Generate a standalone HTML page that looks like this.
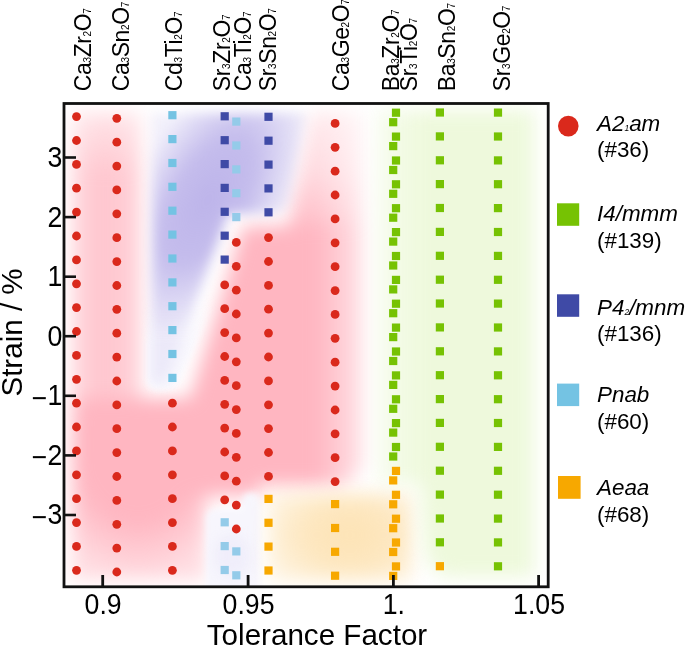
<!DOCTYPE html>
<html><head><meta charset="utf-8"><style>
html,body{margin:0;padding:0;background:#fff;width:685px;height:646px;overflow:hidden}
svg{display:block;font-family:"Liberation Sans",sans-serif;}
text{opacity:0.999}
</style></head><body>
<svg width="685" height="646" viewBox="0 0 685 646">
<defs>
<filter id="bl" x="-30%" y="-30%" width="160%" height="160%" color-interpolation-filters="sRGB"><feGaussianBlur stdDeviation="9"/></filter>
<filter id="bl2" x="-30%" y="-30%" width="160%" height="160%" color-interpolation-filters="sRGB"><feGaussianBlur stdDeviation="14"/></filter>
<clipPath id="pc"><rect x="64" y="103.5" width="484" height="483.3"/></clipPath>
</defs>
<rect width="685" height="646" fill="#fff"/>
<g clip-path="url(#pc)">
<defs>
<filter id="b3" x="-50%" y="-50%" width="200%" height="200%" color-interpolation-filters="sRGB"><feGaussianBlur stdDeviation="3"/></filter>
<filter id="b6" x="-50%" y="-50%" width="200%" height="200%" color-interpolation-filters="sRGB"><feGaussianBlur stdDeviation="6"/></filter>
<filter id="b9" x="-50%" y="-50%" width="200%" height="200%" color-interpolation-filters="sRGB"><feGaussianBlur stdDeviation="9"/></filter>
<filter id="b12" x="-50%" y="-50%" width="200%" height="200%" color-interpolation-filters="sRGB"><feGaussianBlur stdDeviation="12"/></filter>
<linearGradient id="pkUR" x1="0" y1="112" x2="0" y2="228" gradientUnits="userSpaceOnUse">
 <stop offset="0" stop-color="#ffb6c1" stop-opacity="0.3"/>
 <stop offset="0.5" stop-color="#ffb6c1" stop-opacity="0.5"/>
 <stop offset="1" stop-color="#ffb6c1" stop-opacity="0.9"/>
</linearGradient>
<linearGradient id="pkB" x1="72" y1="0" x2="141" y2="0" gradientUnits="userSpaceOnUse">
 <stop offset="0" stop-color="#ffb6c1" stop-opacity="0.55"/>
 <stop offset="0.45" stop-color="#ffb6c1" stop-opacity="0.8"/>
 <stop offset="1" stop-color="#ffb6c1" stop-opacity="0.6"/>
</linearGradient>
<radialGradient id="lvF" cx="0" cy="0" r="100" gradientUnits="userSpaceOnUse" gradientTransform="translate(208 200) rotate(30) scale(0.76 1.55)">
 <stop offset="0" stop-color="#bdb4ea" stop-opacity="1"/>
 <stop offset="0.45" stop-color="#bdb4ea" stop-opacity="0.88"/>
 <stop offset="1" stop-color="#bdb4ea" stop-opacity="0.2"/>
</radialGradient>
<linearGradient id="wb" x1="0" y1="300" x2="0" y2="345" gradientUnits="userSpaceOnUse">
 <stop offset="0" stop-color="#f8f7fd" stop-opacity="0"/>
 <stop offset="1" stop-color="#f8f7fd" stop-opacity="1"/>
</linearGradient>
<radialGradient id="orR" cx="0" cy="0" r="100" gradientUnits="userSpaceOnUse" gradientTransform="translate(350 535) scale(1.0 0.7)">
 <stop offset="0" stop-color="#fde3b5" stop-opacity="1"/>
 <stop offset="0.45" stop-color="#fde3b5" stop-opacity="0.85"/>
 <stop offset="1" stop-color="#fde3b5" stop-opacity="0.3"/>
</radialGradient>
<linearGradient id="grG" x1="378" y1="0" x2="425" y2="0" gradientUnits="userSpaceOnUse">
 <stop offset="0" stop-color="#eef9dc" stop-opacity="0.5"/>
 <stop offset="1" stop-color="#eef9dc" stop-opacity="1"/>
</linearGradient>
<radialGradient id="pkLL" cx="0" cy="0" r="100" gradientUnits="userSpaceOnUse" gradientTransform="translate(138 445) scale(1.1 1.35)">
 <stop offset="0" stop-color="#ffb6c1" stop-opacity="1"/>
 <stop offset="0.55" stop-color="#ffb6c1" stop-opacity="1"/>
 <stop offset="1" stop-color="#ffb6c1" stop-opacity="0.45"/>
</radialGradient>
<linearGradient id="pkM" x1="316" y1="0" x2="362" y2="0" gradientUnits="userSpaceOnUse">
 <stop offset="0" stop-color="#ffb6c1" stop-opacity="1"/>
 <stop offset="1" stop-color="#ffb6c1" stop-opacity="0.4"/>
</linearGradient>
<linearGradient id="mHg" x1="316" y1="0" x2="362" y2="0" gradientUnits="userSpaceOnUse">
 <stop offset="0" stop-color="#fff"/>
 <stop offset="1" stop-color="#666"/>
</linearGradient>
<mask id="mH" maskUnits="userSpaceOnUse" x="0" y="0" width="685" height="646"><rect x="0" y="0" width="685" height="646" fill="url(#mHg)"/></mask>
<linearGradient id="mVg" x1="0" y1="112" x2="0" y2="175" gradientUnits="userSpaceOnUse">
 <stop offset="0" stop-color="#777"/>
 <stop offset="1" stop-color="#fff"/>
</linearGradient>
<mask id="mV" maskUnits="userSpaceOnUse" x="0" y="0" width="685" height="646"><rect x="0" y="0" width="685" height="646" fill="url(#mVg)"/></mask>
</defs>
<g filter="url(#b9)">
<rect x="72" y="112" width="69" height="286" fill="url(#pkB)" mask="url(#mV)"/>
<polygon fill="url(#pkLL)" points="72,398 190,398 190,496 206,496 206,580 72,580"/>
<g mask="url(#mH)">
<polygon fill="#ffb6c1" points="190,398 243,226 362,226 362,466 346,485 258,485 258,496 190,496 190,398"/>
<polygon fill="url(#pkUR)" points="312,112 362,112 362,226 288,226 300,170"/>
</g>
</g>
<path fill="url(#wb)" filter="url(#b3)" d="M147,300 L214,300 L180,378 Q176,390 165,390 L158,390 Q147,390 147,378 Z"/>
<polygon fill="url(#lvF)" filter="url(#b6)" points="152,113 306,113 288,205 278,213 228,214 166,382 152,382"/>
<g filter="url(#b3)">
<rect x="206" y="509" width="44" height="90" rx="9" fill="#f7f6fd"/>
<rect x="242" y="493" width="18" height="100" rx="8" fill="#f7f6fd"/>
</g>
<ellipse cx="232" cy="556" rx="18" ry="22" fill="#e9e6f8" opacity="0.5" filter="url(#b6)"/>
<rect x="268" y="493" width="144" height="88" fill="url(#orR)" filter="url(#b9)"/>
<path fill="url(#grG)" filter="url(#b9)" d="M378,110 L534,110 L534,577 L452,577 Q428,577 424,545 L420,484 L378,484 Z"/>

</g>
<circle cx="76.5" cy="116.6" r="4.4" fill="#da291c"/>
<circle cx="76.5" cy="140.5" r="4.4" fill="#da291c"/>
<circle cx="76.5" cy="164.4" r="4.4" fill="#da291c"/>
<circle cx="76.5" cy="188.2" r="4.4" fill="#da291c"/>
<circle cx="76.5" cy="212.1" r="4.4" fill="#da291c"/>
<circle cx="76.5" cy="236.0" r="4.4" fill="#da291c"/>
<circle cx="76.5" cy="259.9" r="4.4" fill="#da291c"/>
<circle cx="76.5" cy="283.8" r="4.4" fill="#da291c"/>
<circle cx="76.5" cy="307.6" r="4.4" fill="#da291c"/>
<circle cx="76.5" cy="331.5" r="4.4" fill="#da291c"/>
<circle cx="76.5" cy="355.4" r="4.4" fill="#da291c"/>
<circle cx="76.5" cy="379.3" r="4.4" fill="#da291c"/>
<circle cx="76.5" cy="403.2" r="4.4" fill="#da291c"/>
<circle cx="76.5" cy="427.0" r="4.4" fill="#da291c"/>
<circle cx="76.5" cy="450.9" r="4.4" fill="#da291c"/>
<circle cx="76.5" cy="474.8" r="4.4" fill="#da291c"/>
<circle cx="76.5" cy="498.7" r="4.4" fill="#da291c"/>
<circle cx="76.5" cy="522.6" r="4.4" fill="#da291c"/>
<circle cx="76.5" cy="546.4" r="4.4" fill="#da291c"/>
<circle cx="76.5" cy="570.3" r="4.4" fill="#da291c"/>
<circle cx="116.8" cy="118.3" r="4.4" fill="#da291c"/>
<circle cx="116.8" cy="142.2" r="4.4" fill="#da291c"/>
<circle cx="116.8" cy="166.1" r="4.4" fill="#da291c"/>
<circle cx="116.8" cy="189.9" r="4.4" fill="#da291c"/>
<circle cx="116.8" cy="213.8" r="4.4" fill="#da291c"/>
<circle cx="116.8" cy="237.7" r="4.4" fill="#da291c"/>
<circle cx="116.8" cy="261.6" r="4.4" fill="#da291c"/>
<circle cx="116.8" cy="285.5" r="4.4" fill="#da291c"/>
<circle cx="116.8" cy="309.3" r="4.4" fill="#da291c"/>
<circle cx="116.8" cy="333.2" r="4.4" fill="#da291c"/>
<circle cx="116.8" cy="357.1" r="4.4" fill="#da291c"/>
<circle cx="116.8" cy="381.0" r="4.4" fill="#da291c"/>
<circle cx="116.8" cy="404.9" r="4.4" fill="#da291c"/>
<circle cx="116.8" cy="428.7" r="4.4" fill="#da291c"/>
<circle cx="116.8" cy="452.6" r="4.4" fill="#da291c"/>
<circle cx="116.8" cy="476.5" r="4.4" fill="#da291c"/>
<circle cx="116.8" cy="500.4" r="4.4" fill="#da291c"/>
<circle cx="116.8" cy="524.3" r="4.4" fill="#da291c"/>
<circle cx="116.8" cy="548.1" r="4.4" fill="#da291c"/>
<circle cx="116.8" cy="572.0" r="4.4" fill="#da291c"/>
<rect x="168.3" y="111.1" width="8.2" height="8.2" fill="#74c3e3"/>
<rect x="168.3" y="135.0" width="8.2" height="8.2" fill="#74c3e3"/>
<rect x="168.3" y="158.9" width="8.2" height="8.2" fill="#74c3e3"/>
<rect x="168.3" y="182.7" width="8.2" height="8.2" fill="#74c3e3"/>
<rect x="168.3" y="206.6" width="8.2" height="8.2" fill="#74c3e3"/>
<rect x="168.3" y="230.5" width="8.2" height="8.2" fill="#74c3e3"/>
<rect x="168.3" y="254.4" width="8.2" height="8.2" fill="#74c3e3"/>
<rect x="168.3" y="278.3" width="8.2" height="8.2" fill="#74c3e3"/>
<rect x="168.3" y="302.1" width="8.2" height="8.2" fill="#74c3e3"/>
<rect x="168.3" y="326.0" width="8.2" height="8.2" fill="#74c3e3"/>
<rect x="168.3" y="349.9" width="8.2" height="8.2" fill="#74c3e3"/>
<rect x="168.3" y="373.8" width="8.2" height="8.2" fill="#74c3e3"/>
<circle cx="172.4" cy="403.2" r="4.4" fill="#da291c"/>
<circle cx="172.4" cy="427.0" r="4.4" fill="#da291c"/>
<circle cx="172.4" cy="450.9" r="4.4" fill="#da291c"/>
<circle cx="172.4" cy="474.8" r="4.4" fill="#da291c"/>
<circle cx="172.4" cy="498.7" r="4.4" fill="#da291c"/>
<circle cx="172.4" cy="522.6" r="4.4" fill="#da291c"/>
<circle cx="172.4" cy="546.4" r="4.4" fill="#da291c"/>
<circle cx="172.4" cy="570.3" r="4.4" fill="#da291c"/>
<rect x="220.6" y="112.2" width="8.2" height="8.2" fill="#3f4aa6"/>
<rect x="220.6" y="136.1" width="8.2" height="8.2" fill="#3f4aa6"/>
<rect x="220.6" y="160.0" width="8.2" height="8.2" fill="#3f4aa6"/>
<rect x="220.6" y="183.8" width="8.2" height="8.2" fill="#3f4aa6"/>
<rect x="220.6" y="207.7" width="8.2" height="8.2" fill="#3f4aa6"/>
<rect x="220.6" y="231.6" width="8.2" height="8.2" fill="#3f4aa6"/>
<rect x="220.6" y="255.5" width="8.2" height="8.2" fill="#3f4aa6"/>
<circle cx="224.7" cy="284.9" r="4.4" fill="#da291c"/>
<circle cx="224.7" cy="308.7" r="4.4" fill="#da291c"/>
<circle cx="224.7" cy="332.6" r="4.4" fill="#da291c"/>
<circle cx="224.7" cy="356.5" r="4.4" fill="#da291c"/>
<circle cx="224.7" cy="380.4" r="4.4" fill="#da291c"/>
<circle cx="224.7" cy="404.3" r="4.4" fill="#da291c"/>
<circle cx="224.7" cy="428.1" r="4.4" fill="#da291c"/>
<circle cx="224.7" cy="452.0" r="4.4" fill="#da291c"/>
<circle cx="224.7" cy="475.9" r="4.4" fill="#da291c"/>
<circle cx="224.7" cy="499.8" r="4.4" fill="#da291c"/>
<rect x="220.6" y="518.2" width="8.2" height="8.2" fill="#94cbe9"/>
<rect x="220.6" y="542.0" width="8.2" height="8.2" fill="#94cbe9"/>
<rect x="220.6" y="565.9" width="8.2" height="8.2" fill="#94cbe9"/>
<rect x="232.2" y="117.5" width="8.2" height="8.2" fill="#94cbe9"/>
<rect x="232.2" y="141.4" width="8.2" height="8.2" fill="#94cbe9"/>
<rect x="232.2" y="165.3" width="8.2" height="8.2" fill="#94cbe9"/>
<rect x="232.2" y="189.1" width="8.2" height="8.2" fill="#94cbe9"/>
<rect x="232.2" y="213.0" width="8.2" height="8.2" fill="#94cbe9"/>
<circle cx="236.3" cy="242.4" r="4.4" fill="#da291c"/>
<circle cx="236.3" cy="266.3" r="4.4" fill="#da291c"/>
<circle cx="236.3" cy="290.2" r="4.4" fill="#da291c"/>
<circle cx="236.3" cy="314.0" r="4.4" fill="#da291c"/>
<circle cx="236.3" cy="337.9" r="4.4" fill="#da291c"/>
<circle cx="236.3" cy="361.8" r="4.4" fill="#da291c"/>
<circle cx="236.3" cy="385.7" r="4.4" fill="#da291c"/>
<circle cx="236.3" cy="409.6" r="4.4" fill="#da291c"/>
<circle cx="236.3" cy="433.4" r="4.4" fill="#da291c"/>
<circle cx="236.3" cy="457.3" r="4.4" fill="#da291c"/>
<circle cx="236.3" cy="481.2" r="4.4" fill="#da291c"/>
<circle cx="236.3" cy="505.1" r="4.4" fill="#da291c"/>
<circle cx="236.3" cy="529.0" r="4.4" fill="#da291c"/>
<rect x="232.2" y="547.3" width="8.2" height="8.2" fill="#94cbe9"/>
<rect x="232.2" y="571.2" width="8.2" height="8.2" fill="#94cbe9"/>
<rect x="264.4" y="112.7" width="8.2" height="8.2" fill="#3f4aa6"/>
<rect x="264.4" y="136.6" width="8.2" height="8.2" fill="#3f4aa6"/>
<rect x="264.4" y="160.5" width="8.2" height="8.2" fill="#3f4aa6"/>
<rect x="264.4" y="184.3" width="8.2" height="8.2" fill="#3f4aa6"/>
<rect x="264.4" y="208.2" width="8.2" height="8.2" fill="#3f4aa6"/>
<circle cx="268.5" cy="237.6" r="4.4" fill="#da291c"/>
<circle cx="268.5" cy="261.5" r="4.4" fill="#da291c"/>
<circle cx="268.5" cy="285.4" r="4.4" fill="#da291c"/>
<circle cx="268.5" cy="309.2" r="4.4" fill="#da291c"/>
<circle cx="268.5" cy="333.1" r="4.4" fill="#da291c"/>
<circle cx="268.5" cy="357.0" r="4.4" fill="#da291c"/>
<circle cx="268.5" cy="380.9" r="4.4" fill="#da291c"/>
<circle cx="268.5" cy="404.8" r="4.4" fill="#da291c"/>
<circle cx="268.5" cy="428.6" r="4.4" fill="#da291c"/>
<circle cx="268.5" cy="452.5" r="4.4" fill="#da291c"/>
<circle cx="268.5" cy="476.4" r="4.4" fill="#da291c"/>
<rect x="264.4" y="494.8" width="8.2" height="8.2" fill="#f7a800"/>
<rect x="264.4" y="518.7" width="8.2" height="8.2" fill="#f7a800"/>
<rect x="264.4" y="542.5" width="8.2" height="8.2" fill="#f7a800"/>
<rect x="264.4" y="566.4" width="8.2" height="8.2" fill="#f7a800"/>
<circle cx="335.1" cy="123.4" r="4.4" fill="#da291c"/>
<circle cx="335.1" cy="147.3" r="4.4" fill="#da291c"/>
<circle cx="335.1" cy="171.2" r="4.4" fill="#da291c"/>
<circle cx="335.1" cy="195.0" r="4.4" fill="#da291c"/>
<circle cx="335.1" cy="218.9" r="4.4" fill="#da291c"/>
<circle cx="335.1" cy="242.8" r="4.4" fill="#da291c"/>
<circle cx="335.1" cy="266.7" r="4.4" fill="#da291c"/>
<circle cx="335.1" cy="290.6" r="4.4" fill="#da291c"/>
<circle cx="335.1" cy="314.4" r="4.4" fill="#da291c"/>
<circle cx="335.1" cy="338.3" r="4.4" fill="#da291c"/>
<circle cx="335.1" cy="362.2" r="4.4" fill="#da291c"/>
<circle cx="335.1" cy="386.1" r="4.4" fill="#da291c"/>
<circle cx="335.1" cy="410.0" r="4.4" fill="#da291c"/>
<circle cx="335.1" cy="433.8" r="4.4" fill="#da291c"/>
<circle cx="335.1" cy="457.7" r="4.4" fill="#da291c"/>
<circle cx="335.1" cy="481.6" r="4.4" fill="#da291c"/>
<rect x="331.0" y="500.0" width="8.2" height="8.2" fill="#f7a800"/>
<rect x="331.0" y="523.9" width="8.2" height="8.2" fill="#f7a800"/>
<rect x="331.0" y="547.7" width="8.2" height="8.2" fill="#f7a800"/>
<rect x="331.0" y="571.6" width="8.2" height="8.2" fill="#f7a800"/>
<rect x="391.9" y="108.6" width="8.2" height="8.2" fill="#76c203"/>
<rect x="391.9" y="132.5" width="8.2" height="8.2" fill="#76c203"/>
<rect x="391.9" y="156.4" width="8.2" height="8.2" fill="#76c203"/>
<rect x="391.9" y="180.2" width="8.2" height="8.2" fill="#76c203"/>
<rect x="391.9" y="204.1" width="8.2" height="8.2" fill="#76c203"/>
<rect x="391.9" y="228.0" width="8.2" height="8.2" fill="#76c203"/>
<rect x="391.9" y="251.9" width="8.2" height="8.2" fill="#76c203"/>
<rect x="391.9" y="275.8" width="8.2" height="8.2" fill="#76c203"/>
<rect x="391.9" y="299.6" width="8.2" height="8.2" fill="#76c203"/>
<rect x="391.9" y="323.5" width="8.2" height="8.2" fill="#76c203"/>
<rect x="391.9" y="347.4" width="8.2" height="8.2" fill="#76c203"/>
<rect x="391.9" y="371.3" width="8.2" height="8.2" fill="#76c203"/>
<rect x="391.9" y="395.2" width="8.2" height="8.2" fill="#76c203"/>
<rect x="391.9" y="419.0" width="8.2" height="8.2" fill="#76c203"/>
<rect x="391.9" y="442.9" width="8.2" height="8.2" fill="#76c203"/>
<rect x="391.9" y="466.8" width="8.2" height="8.2" fill="#f7a800"/>
<rect x="391.9" y="490.7" width="8.2" height="8.2" fill="#f7a800"/>
<rect x="391.9" y="514.6" width="8.2" height="8.2" fill="#f7a800"/>
<rect x="391.9" y="538.4" width="8.2" height="8.2" fill="#f7a800"/>
<rect x="391.9" y="562.3" width="8.2" height="8.2" fill="#f7a800"/>
<rect x="389.1" y="118.1" width="8.2" height="8.2" fill="#76c203"/>
<rect x="389.1" y="142.0" width="8.2" height="8.2" fill="#76c203"/>
<rect x="389.1" y="165.9" width="8.2" height="8.2" fill="#76c203"/>
<rect x="389.1" y="189.7" width="8.2" height="8.2" fill="#76c203"/>
<rect x="389.1" y="213.6" width="8.2" height="8.2" fill="#76c203"/>
<rect x="389.1" y="237.5" width="8.2" height="8.2" fill="#76c203"/>
<rect x="389.1" y="261.4" width="8.2" height="8.2" fill="#76c203"/>
<rect x="389.1" y="285.3" width="8.2" height="8.2" fill="#76c203"/>
<rect x="389.1" y="309.1" width="8.2" height="8.2" fill="#76c203"/>
<rect x="389.1" y="333.0" width="8.2" height="8.2" fill="#76c203"/>
<rect x="389.1" y="356.9" width="8.2" height="8.2" fill="#76c203"/>
<rect x="389.1" y="380.8" width="8.2" height="8.2" fill="#76c203"/>
<rect x="389.1" y="404.7" width="8.2" height="8.2" fill="#76c203"/>
<rect x="389.1" y="428.5" width="8.2" height="8.2" fill="#76c203"/>
<rect x="389.1" y="452.4" width="8.2" height="8.2" fill="#76c203"/>
<rect x="389.1" y="476.3" width="8.2" height="8.2" fill="#f7a800"/>
<rect x="389.1" y="500.2" width="8.2" height="8.2" fill="#f7a800"/>
<rect x="389.1" y="524.1" width="8.2" height="8.2" fill="#f7a800"/>
<rect x="389.1" y="547.9" width="8.2" height="8.2" fill="#f7a800"/>
<rect x="389.1" y="571.8" width="8.2" height="8.2" fill="#f7a800"/>
<rect x="435.8" y="108.4" width="8.2" height="8.2" fill="#76c203"/>
<rect x="435.8" y="132.3" width="8.2" height="8.2" fill="#76c203"/>
<rect x="435.8" y="156.2" width="8.2" height="8.2" fill="#76c203"/>
<rect x="435.8" y="180.0" width="8.2" height="8.2" fill="#76c203"/>
<rect x="435.8" y="203.9" width="8.2" height="8.2" fill="#76c203"/>
<rect x="435.8" y="227.8" width="8.2" height="8.2" fill="#76c203"/>
<rect x="435.8" y="251.7" width="8.2" height="8.2" fill="#76c203"/>
<rect x="435.8" y="275.6" width="8.2" height="8.2" fill="#76c203"/>
<rect x="435.8" y="299.4" width="8.2" height="8.2" fill="#76c203"/>
<rect x="435.8" y="323.3" width="8.2" height="8.2" fill="#76c203"/>
<rect x="435.8" y="347.2" width="8.2" height="8.2" fill="#76c203"/>
<rect x="435.8" y="371.1" width="8.2" height="8.2" fill="#76c203"/>
<rect x="435.8" y="395.0" width="8.2" height="8.2" fill="#76c203"/>
<rect x="435.8" y="418.8" width="8.2" height="8.2" fill="#76c203"/>
<rect x="435.8" y="442.7" width="8.2" height="8.2" fill="#76c203"/>
<rect x="435.8" y="466.6" width="8.2" height="8.2" fill="#76c203"/>
<rect x="435.8" y="490.5" width="8.2" height="8.2" fill="#76c203"/>
<rect x="435.8" y="514.4" width="8.2" height="8.2" fill="#76c203"/>
<rect x="435.8" y="538.2" width="8.2" height="8.2" fill="#76c203"/>
<rect x="435.8" y="562.1" width="8.2" height="8.2" fill="#f7a800"/>
<rect x="493.9" y="108.5" width="8.2" height="8.2" fill="#76c203"/>
<rect x="493.9" y="132.4" width="8.2" height="8.2" fill="#76c203"/>
<rect x="493.9" y="156.3" width="8.2" height="8.2" fill="#76c203"/>
<rect x="493.9" y="180.1" width="8.2" height="8.2" fill="#76c203"/>
<rect x="493.9" y="204.0" width="8.2" height="8.2" fill="#76c203"/>
<rect x="493.9" y="227.9" width="8.2" height="8.2" fill="#76c203"/>
<rect x="493.9" y="251.8" width="8.2" height="8.2" fill="#76c203"/>
<rect x="493.9" y="275.7" width="8.2" height="8.2" fill="#76c203"/>
<rect x="493.9" y="299.5" width="8.2" height="8.2" fill="#76c203"/>
<rect x="493.9" y="323.4" width="8.2" height="8.2" fill="#76c203"/>
<rect x="493.9" y="347.3" width="8.2" height="8.2" fill="#76c203"/>
<rect x="493.9" y="371.2" width="8.2" height="8.2" fill="#76c203"/>
<rect x="493.9" y="395.1" width="8.2" height="8.2" fill="#76c203"/>
<rect x="493.9" y="418.9" width="8.2" height="8.2" fill="#76c203"/>
<rect x="493.9" y="442.8" width="8.2" height="8.2" fill="#76c203"/>
<rect x="493.9" y="466.7" width="8.2" height="8.2" fill="#76c203"/>
<rect x="493.9" y="490.6" width="8.2" height="8.2" fill="#76c203"/>
<rect x="493.9" y="514.5" width="8.2" height="8.2" fill="#76c203"/>
<rect x="493.9" y="538.3" width="8.2" height="8.2" fill="#76c203"/>
<rect x="493.9" y="562.2" width="8.2" height="8.2" fill="#76c203"/>
<line x1="64" y1="157.5" x2="76" y2="157.5" stroke="#111" stroke-width="2.6"/>
<text transform="translate(62.3,166.9) scale(0.92,1)" font-size="29" text-anchor="end">3</text>
<line x1="64" y1="217.1" x2="76" y2="217.1" stroke="#111" stroke-width="2.6"/>
<text transform="translate(62.3,226.5) scale(0.92,1)" font-size="29" text-anchor="end">2</text>
<line x1="64" y1="276.7" x2="76" y2="276.7" stroke="#111" stroke-width="2.6"/>
<text transform="translate(62.3,286.1) scale(0.92,1)" font-size="29" text-anchor="end">1</text>
<line x1="64" y1="336.2" x2="76" y2="336.2" stroke="#111" stroke-width="2.6"/>
<text transform="translate(62.3,345.6) scale(0.92,1)" font-size="29" text-anchor="end">0</text>
<line x1="64" y1="395.8" x2="76" y2="395.8" stroke="#111" stroke-width="2.6"/>
<text transform="translate(62.3,405.2) scale(0.92,1)" font-size="29" text-anchor="end"><tspan dy="2.6">−</tspan><tspan dy="-2.6">1</tspan></text>
<line x1="64" y1="455.4" x2="76" y2="455.4" stroke="#111" stroke-width="2.6"/>
<text transform="translate(62.3,464.8) scale(0.92,1)" font-size="29" text-anchor="end"><tspan dy="2.6">−</tspan><tspan dy="-2.6">2</tspan></text>
<line x1="64" y1="515.0" x2="76" y2="515.0" stroke="#111" stroke-width="2.6"/>
<text transform="translate(62.3,524.4) scale(0.92,1)" font-size="29" text-anchor="end"><tspan dy="2.6">−</tspan><tspan dy="-2.6">3</tspan></text>
<line x1="102.7" y1="575" x2="102.7" y2="587" stroke="#111" stroke-width="2.8"/>
<text transform="translate(103.10000000000001,613.6) scale(0.92,1)" font-size="29" text-anchor="middle">0.9</text>
<line x1="248.1" y1="575" x2="248.1" y2="587" stroke="#111" stroke-width="2.8"/>
<text transform="translate(248.5,613.6) scale(0.92,1)" font-size="29" text-anchor="middle">0.95</text>
<line x1="393.4" y1="575" x2="393.4" y2="587" stroke="#111" stroke-width="2.8"/>
<text transform="translate(393.79999999999995,613.6) scale(0.92,1)" font-size="29" text-anchor="middle">1.</text>
<line x1="538.6" y1="575" x2="538.6" y2="587" stroke="#111" stroke-width="2.8"/>
<text transform="translate(539.0,613.6) scale(0.92,1)" font-size="29" text-anchor="middle">1.05</text>
<rect x="64" y="103.5" width="484.2" height="483.3" fill="none" stroke="#111" stroke-width="2.8"/>
<text x="206.8" y="645" font-size="29.6">Tolerance Factor</text>
<text transform="translate(21.6,396.6) rotate(-90)" font-size="29.6">Strain / %</text>
<text transform="translate(90.6,91.2) rotate(-90)" x="0" y="0" letter-spacing="-0.38"><tspan font-size="23">Ca</tspan><tspan font-size="10">3</tspan><tspan font-size="23">Zr</tspan><tspan font-size="10">2</tspan><tspan font-size="23">O</tspan><tspan font-size="10">7</tspan></text>
<text transform="translate(128.6,91.2) rotate(-90)" x="0" y="0" letter-spacing="-0.38"><tspan font-size="23">Ca</tspan><tspan font-size="10">3</tspan><tspan font-size="23">Sn</tspan><tspan font-size="10">2</tspan><tspan font-size="23">O</tspan><tspan font-size="10">7</tspan></text>
<text transform="translate(182.0,91.2) rotate(-90)" x="0" y="0" letter-spacing="-0.38"><tspan font-size="23">Cd</tspan><tspan font-size="10">3</tspan><tspan font-size="23">Ti</tspan><tspan font-size="10">2</tspan><tspan font-size="23">O</tspan><tspan font-size="10">7</tspan></text>
<text transform="translate(230.0,91.2) rotate(-90)" x="0" y="0" letter-spacing="-0.38"><tspan font-size="23">Sr</tspan><tspan font-size="10">3</tspan><tspan font-size="23">Zr</tspan><tspan font-size="10">2</tspan><tspan font-size="23">O</tspan><tspan font-size="10">7</tspan></text>
<text transform="translate(251.4,91.2) rotate(-90)" x="0" y="0" letter-spacing="-0.38"><tspan font-size="23">Ca</tspan><tspan font-size="10">3</tspan><tspan font-size="23">Ti</tspan><tspan font-size="10">2</tspan><tspan font-size="23">O</tspan><tspan font-size="10">7</tspan></text>
<text transform="translate(276.2,91.2) rotate(-90)" x="0" y="0" letter-spacing="-0.38"><tspan font-size="23">Sr</tspan><tspan font-size="10">3</tspan><tspan font-size="23">Sn</tspan><tspan font-size="10">2</tspan><tspan font-size="23">O</tspan><tspan font-size="10">7</tspan></text>
<text transform="translate(348.6,91.2) rotate(-90)" x="0" y="0" letter-spacing="-0.38"><tspan font-size="23">Ca</tspan><tspan font-size="10">3</tspan><tspan font-size="23">Ge</tspan><tspan font-size="10">2</tspan><tspan font-size="23">O</tspan><tspan font-size="10">7</tspan></text>
<text transform="translate(399.0,91.2) rotate(-90)" x="0" y="0" letter-spacing="-0.38"><tspan font-size="23">Ba</tspan><tspan font-size="10">3</tspan><tspan font-size="23">Zr</tspan><tspan font-size="10">2</tspan><tspan font-size="23">O</tspan><tspan font-size="10">7</tspan></text>
<text transform="translate(416.8,91.2) rotate(-90)" x="0" y="0" letter-spacing="-0.38"><tspan font-size="23">Sr</tspan><tspan font-size="10">3</tspan><tspan font-size="23">Ti</tspan><tspan font-size="10">2</tspan><tspan font-size="23">O</tspan><tspan font-size="10">7</tspan></text>
<text transform="translate(454.7,91.2) rotate(-90)" x="0" y="0" letter-spacing="-0.38"><tspan font-size="23">Ba</tspan><tspan font-size="10">3</tspan><tspan font-size="23">Sn</tspan><tspan font-size="10">2</tspan><tspan font-size="23">O</tspan><tspan font-size="10">7</tspan></text>
<text transform="translate(510.2,91.2) rotate(-90)" x="0" y="0" letter-spacing="-0.38"><tspan font-size="23">Sr</tspan><tspan font-size="10">3</tspan><tspan font-size="23">Ge</tspan><tspan font-size="10">2</tspan><tspan font-size="23">O</tspan><tspan font-size="10">7</tspan></text>
<circle cx="568.3" cy="126.1" r="10.3" fill="#da291c"/>
<rect x="557" y="203.3" width="22.2" height="22.5" fill="#76c203"/>
<rect x="557" y="294.3" width="22.2" height="22.5" fill="#3f4aa6"/>
<rect x="557" y="383.6" width="22.2" height="22.5" fill="#74c3e3"/>
<rect x="558" y="476" width="22.6" height="22.8" fill="#f7a800"/>
<text x="597" y="130.6" font-size="22.4" font-style="italic">A2<tspan font-size="8.5">1</tspan>am</text>
<text x="597" y="157.2" font-size="22.4">(#36)</text>
<text x="597" y="221.2" font-size="22.4" font-style="italic">I4/mmm</text>
<text x="597" y="247.7" font-size="22.4">(#139)</text>
<text x="597" y="314.9" font-size="22.4" font-style="italic">P4<tspan font-size="8.5">2</tspan>/mnm</text>
<text x="597" y="341.2" font-size="22.4">(#136)</text>
<text x="597" y="402.4" font-size="22.4" font-style="italic">Pnab</text>
<text x="597" y="428.7" font-size="22.4">(#60)</text>
<text x="597" y="494.7" font-size="22.4" font-style="italic">Aeaa</text>
<text x="597" y="521.7" font-size="22.4">(#68)</text>
</svg>
</body></html>
